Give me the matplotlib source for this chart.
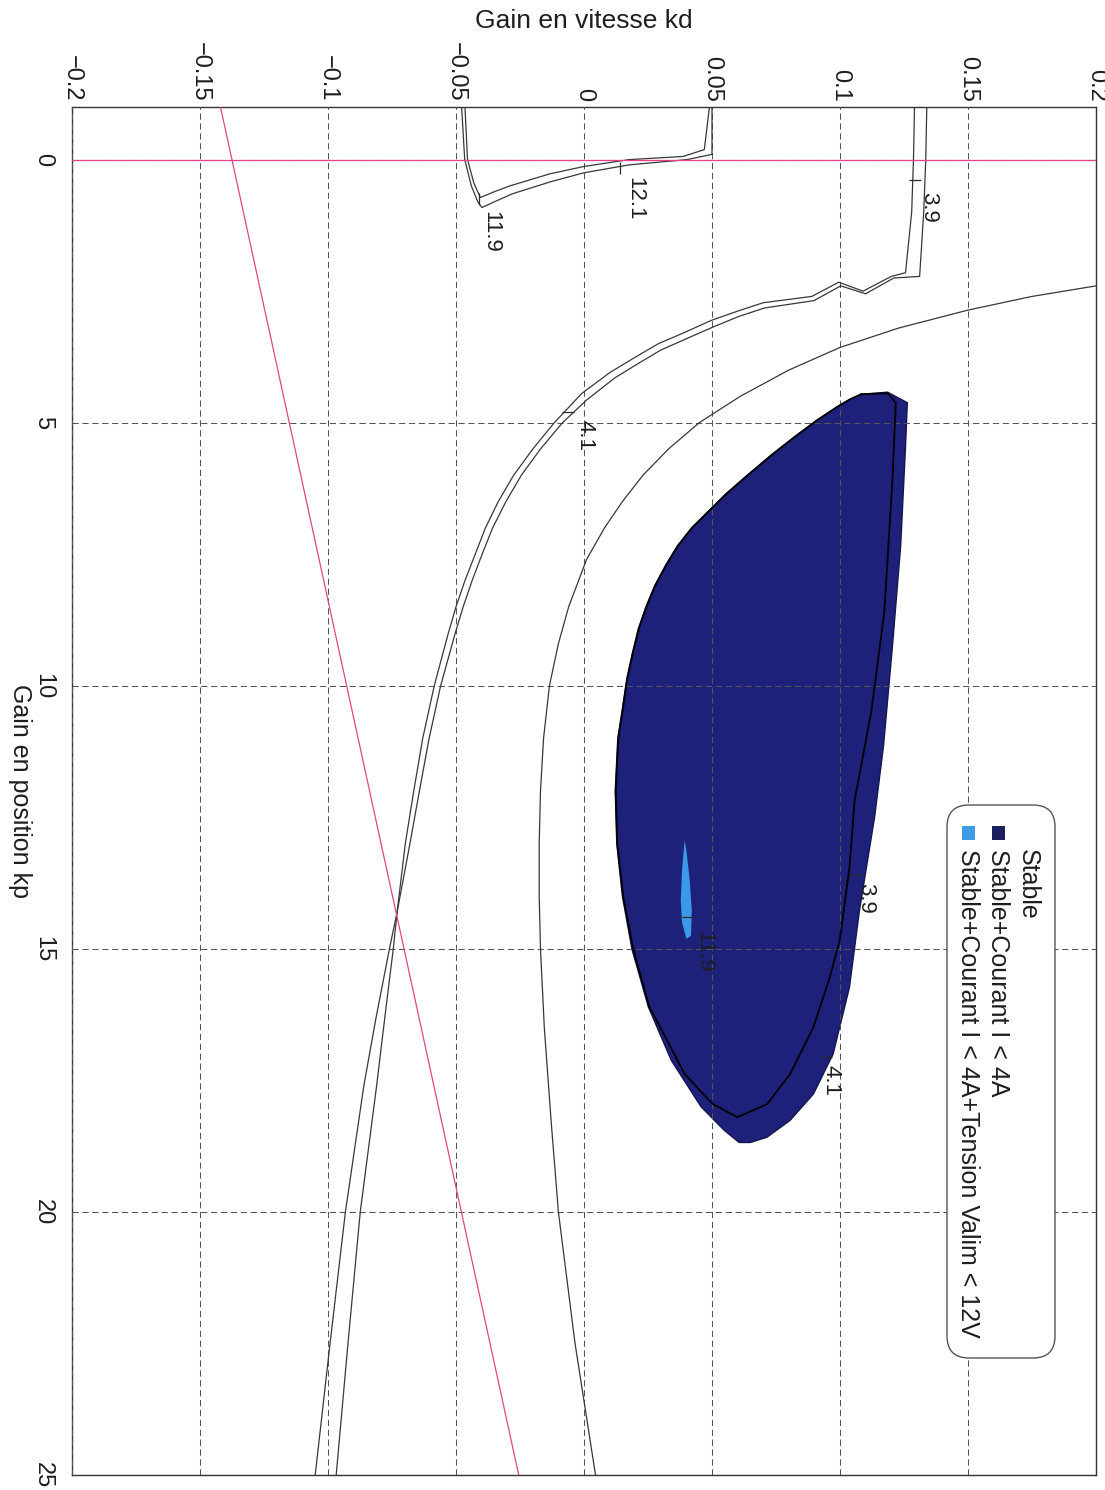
import numpy as np
import matplotlib
matplotlib.use("Agg")
import matplotlib.pyplot as plt
from matplotlib.patches import Polygon, FancyBboxPatch, Rectangle

plt.rcParams["font.family"] = ["Liberation Sans", "DejaVu Sans"]

# axes (le graphique est tourne : kd horizontal, kp vertical vers le bas)
kd_ticks = [-0.2, -0.15, -0.1, -0.05, 0, 0.05, 0.1, 0.15, 0.2]
kd_tick_labels = ["\u22120.2", "\u22120.15", "\u22120.1", "\u22120.05", "0", "0.05", "0.1", "0.15", "0.2"]
kp_ticks = [0, 5, 10, 15, 20, 25]

# limite de stabilite (trait simple)
stab_kp = [2.40, 2.60, 2.86, 3.20, 3.57, 4.00, 4.50, 5.00, 5.50, 6.00, 6.50, 7.00, 7.60, 8.50, 9.20, 10.0,
           11.0, 12.0, 13.0, 14.0, 15.0, 16.5, 18.3, 20.0, 22.5, 25.0]
stab_kd = [0.200, 0.175, 0.150, 0.123, 0.100, 0.080, 0.061, 0.045, 0.033, 0.023, 0.015, 0.008, 0.001, -0.006,
           -0.010, -0.0135, -0.0158, -0.0170, -0.0175, -0.0175, -0.0170, -0.0155, -0.0128, -0.0100, -0.0035, 0.0045]

# courant 3.9 / 4.1 A (double trait)
cur_out_kp = [-1.0, 0.0, 1.0, 2.15, 2.22, 2.50, 2.33, 2.60, 2.72, 2.88, 3.05, 3.28, 3.50, 3.77, 4.05, 4.45, 5.0,
              5.5, 6.0, 6.5, 7.0, 7.5, 8.0, 8.5, 9.0, 10.0, 11.0, 12.0, 13.0, 14.3, 15.0, 16.3, 17.6, 20.0, 22.5, 25.0]
cur_out_kd = [0.1291, 0.1287, 0.1280, 0.1256, 0.1200, 0.1090, 0.0995, 0.0890, 0.0700, 0.0600, 0.0500, 0.0395,
              0.0290, 0.0195, 0.0100, -0.0010, -0.0116, -0.0200, -0.0275, -0.0335, -0.0385, -0.0425, -0.0465,
              -0.0500, -0.0530, -0.0585, -0.0630, -0.0665, -0.0698, -0.0730, -0.0745, -0.0778, -0.0810, -0.0874,
              -0.0922, -0.0968]
cur_in_kp = [-1.0, 0.0, 1.0, 2.22, 2.25, 2.55, 2.40, 2.68, 2.82, 2.98, 3.18, 3.40, 3.62, 3.88, 4.15, 4.57, 5.0,
             5.5, 6.0, 6.5, 7.0, 7.5, 8.0, 8.5, 9.0, 10.0, 11.0, 12.0, 13.0, 14.3, 15.0, 16.3, 17.6, 20.0, 22.5, 25.0]
cur_in_kd = [0.1339, 0.1335, 0.1327, 0.1311, 0.1210, 0.1100, 0.1003, 0.0898, 0.0705, 0.0605, 0.0505, 0.0402,
             0.0300, 0.0210, 0.0120, 0.0010, -0.0084, -0.0170, -0.0245, -0.0305, -0.0357, -0.0398, -0.0437,
             -0.0472, -0.0503, -0.0560, -0.0605, -0.0643, -0.0680, -0.0730, -0.0760, -0.0812, -0.0860, -0.0932,
             -0.0992, -0.1050]

# tension 11.9 / 12.1 V
v_out_kp = [-1.0, 0.0, 0.50, 0.80, 0.91, 0.78, 0.65, 0.42, 0.25, 0.10, 0.0, -0.10, -1.0]
v_out_kd = [-0.0478, -0.0466, -0.0440, -0.0415, -0.0399, -0.0340, -0.0280, -0.0130, 0.0, 0.0176, 0.0402, 0.0500, 0.0500]
v_in_kp = [-1.0, 0.0, 0.45, 0.72, 0.60, 0.50, 0.27, 0.13, 0.0, -0.06, -0.19, -1.0]
v_in_kd = [-0.0465, -0.0455, -0.0430, -0.0405, -0.0345, -0.0290, -0.0133, 0.0, 0.0176, 0.0387, 0.0470, 0.0490]

# zone Stable+Courant I < 4A
zone_kp = [4.42, 4.62, 5.44, 7.34, 9.24, 11.14, 12.5, 14.27, 15.73, 17.0, 17.76, 18.26, 18.58, 18.68, 18.68,
           18.45, 18.0, 17.12, 16.1, 15.0, 14.0, 13.0, 12.0, 11.0, 10.5, 9.87, 9.4, 8.92, 8.5, 8.1, 7.7, 7.34,
           7.0, 6.71, 6.35, 6.01, 5.6, 5.25, 4.95, 4.68, 4.55, 4.46]
zone_kd = [0.1186, 0.1263, 0.1256, 0.1237, 0.1205, 0.1170, 0.1135, 0.1076, 0.1037, 0.0973, 0.0896, 0.0805,
           0.0715, 0.0650, 0.0606, 0.0548, 0.0457, 0.0341, 0.0251, 0.0187, 0.0150, 0.0128, 0.0122, 0.0132,
           0.0148, 0.0167, 0.0188, 0.0212, 0.0242, 0.0276, 0.0320, 0.0365, 0.0420, 0.0480, 0.0555, 0.0635,
           0.0735, 0.0827, 0.0910, 0.0994, 0.1040, 0.1083]

# contour 4A dans la zone
inner_kp = [4.46, 4.44, 4.62, 6.08, 8.6, 10.5, 12.18, 13.45, 14.84, 15.54, 16.49, 17.38, 17.95, 18.2, 17.95,
            17.38, 16.6, 16.1, 15.0, 14.0, 13.0, 12.0, 11.0, 10.5, 9.87, 9.4, 8.92, 8.5, 8.1, 7.7, 7.34, 7.0,
            6.71, 6.35, 6.01, 5.6, 5.25, 4.95, 4.68, 4.55, 4.46]
inner_kd = [0.1083, 0.1186, 0.1218, 0.1205, 0.1173, 0.1122, 0.1057, 0.1037, 0.0999, 0.0960, 0.0896, 0.0805,
            0.0715, 0.0600, 0.0503, 0.0393, 0.0310, 0.0255, 0.0192, 0.0153, 0.0130, 0.0124, 0.0134, 0.0150,
            0.0169, 0.0190, 0.0214, 0.0244, 0.0278, 0.0322, 0.0367, 0.0422, 0.0482, 0.0557, 0.0637, 0.0737,
            0.0829, 0.0912, 0.0996, 0.1042, 0.1083]

# zone Stable+Courant+Tension
volt_kp = [12.94, 13.5, 14.08, 14.5, 14.81, 14.75, 14.27, 13.64, 13.13]
volt_kd = [0.0393, 0.0383, 0.0378, 0.0383, 0.0400, 0.0418, 0.0421, 0.0412, 0.0400]

# droite rose
pink_kp = [-1.0, 25.0]
pink_kd = [-0.142, -0.0255]

# etiquettes des courbes
lbl_text = ["3.9", "12.1", "11.9", "4.1", "3.9", "4.1", "11.9"]
lbl_kd = [0.1345, 0.0199, -0.0365, 0.0003, 0.1100, 0.0965, 0.0469]
lbl_kp = [0.90, 0.75, 1.38, 5.25, 14.05, 17.5, 15.05]
tick_kd = [0.1293, 0.0139, -0.0410, -0.0063, 0.1060, 0.0945, 0.0406]
tick_kp = [0.38, 0.16, 0.75, 4.80, 13.6, 17.05, 14.4]
tick_mk = ["_", "|", "|", "_", "_", "_", "_"]

legend_labels = ["Stable", "Stable+Courant I < 4A", "Stable+Courant I < 4A+Tension Valim < 12V"]
legend_colors = ["none", "#1b1f5e", "#3d9be3"]

navy = "#1e2179"
line_col = "#383838"
pink = "#e6428a"

fig = plt.figure(figsize=(11.05, 14.90), dpi=100)
ax = fig.add_axes([72 / 1105, 1 - 1475 / 1490, 1024 / 1105, 1368 / 1490])
ax.set_xlim(-0.2, 0.2)
ax.set_ylim(25, -1)

ax.add_patch(Polygon(np.column_stack([zone_kd, zone_kp]), closed=True,
                     facecolor=navy, edgecolor="#14164f", lw=1.0, zorder=1))
ax.add_patch(Polygon(np.column_stack([volt_kd, volt_kp]), closed=True,
                     facecolor="#3a9ae8", edgecolor="none", zorder=1.5))
ax.plot(inner_kd, inner_kp, color="black", lw=1.3, zorder=3)

for kd, kp in [(stab_kd, stab_kp), (cur_out_kd, cur_out_kp), (cur_in_kd, cur_in_kp),
               (v_out_kd, v_out_kp), (v_in_kd, v_in_kp)]:
    ax.plot(kd, kp, color=line_col, lw=0.9, zorder=3)

ax.axhline(0, color=pink, lw=0.9, zorder=3)
ax.plot(pink_kd, pink_kp, color=pink, lw=0.9, zorder=3)

for s, x, y in zip(lbl_text, lbl_kd, lbl_kp):
    ax.text(x, y, s, rotation=270, ha="center", va="center", fontsize=16,
            color="#1e1e1e", zorder=4)
for x, y, m in zip(tick_kd, tick_kp, tick_mk):
    ax.plot([x], [y], marker=m, markersize=9, color="#2a2a2a", mew=0.9, zorder=4)

ax.set_xticks(kd_ticks)
ax.set_xticklabels(kd_tick_labels)
ax.set_yticks(kp_ticks)
ax.xaxis.tick_top()
ax.xaxis.set_label_position("top")
ax.tick_params(axis="x", labelrotation=270, labelsize=17, pad=4, length=0, colors="#1e1e1e")
ax.tick_params(axis="y", labelrotation=270, labelsize=17, pad=13, length=0, colors="#1e1e1e")
for t in ax.get_yticklabels():
    t.set_va("center")

ax.set_xlabel("Gain en vitesse kd", fontsize=19, color="#1e1e1e")
ax.xaxis.set_label_coords(0.5, 1 + (107 - 21) / 1368)
ax.xaxis.label.set_va("center")
ax.set_ylabel("Gain en position kp", fontsize=18, rotation=270, va="center", ha="center", color="#1e1e1e")
ax.yaxis.set_label_coords((20 - 72) / 1024, 0.5)

ax.grid(True, color="#555555", lw=0.75, linestyle=(0, (6, 3.5)))
ax.set_axisbelow(False)
for sp in ax.spines.values():
    sp.set_color("#333333")
    sp.set_linewidth(1.0)

# legende dessinee a la main (texte tourne)
lax = fig.add_axes([0, 0, 1, 1])
lax.set_xlim(0, 1105)
lax.set_ylim(1490, 0)
lax.axis("off")
lax.add_patch(FancyBboxPatch((947, 805), 108, 553, boxstyle="round,pad=0,rounding_size=22",
                             facecolor="white", edgecolor="#555555", lw=1.0))
for i, (lab, col) in enumerate(zip(legend_labels, legend_colors)):
    xc = 1028 - 30 * i
    if col != "none":
        lax.add_patch(Rectangle((xc - 6.5, 826), 13, 14, facecolor=col, edgecolor="none"))
    lax.text(xc, 849, lab, rotation=270, ha="center", va="top", fontsize=18, color="#1e1e1e")

fig.savefig("out.png", dpi=100)
